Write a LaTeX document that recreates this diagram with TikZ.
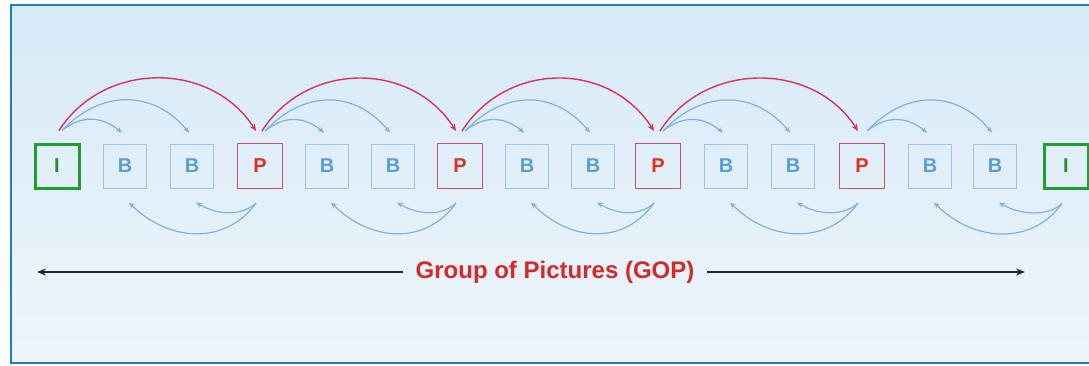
\documentclass[tikz,border=0pt]{standalone}
\usepackage{fontspec}
\setmainfont{Liberation Sans}
\usetikzlibrary{arrows.meta,calc}
\definecolor{bord}{HTML}{1B7FC4}
\definecolor{bgtop}{HTML}{D6EAF8}
\definecolor{bgbot}{HTML}{EEF5FA}
\definecolor{bblue}{HTML}{5A9ED6}
\definecolor{bbox}{HTML}{A0C6E6}
\definecolor{pred}{HTML}{E0301E}
\definecolor{pbox}{HTML}{C8506A}
\definecolor{igreen}{HTML}{2E8B2E}
\definecolor{ibox}{HTML}{1E9E2E}
\definecolor{arcred}{HTML}{D8345A}
\definecolor{arcblue}{HTML}{7FB2DC}
\definecolor{gopred}{HTML}{D42A2A}
\begin{document}
\begin{tikzpicture}[x=1pt,y=-1pt,
  letter/.style={inner sep=0pt, font=\fontsize{20}{20}\selectfont\bfseries},
  bframe/.style={letter, draw=bbox, line width=0.9pt, minimum width=43pt, minimum height=44pt, text=bblue},
  pframe/.style={letter, draw=pbox, line width=1.1pt, minimum size=45pt, text=pred},
  iframe/.style={letter, draw=ibox, line width=3pt, minimum size=44pt, text=igreen},
  refarc/.style={draw=arcred, line width=1.4pt, -{Stealth[length=7pt,width=6pt]}},
  predarc/.style={draw=arcblue, line width=1.2pt, -{Stealth[length=6pt,width=5pt]}},
  goptext/.style={text=gopred, font=\fontsize{24}{24}\selectfont\bfseries, inner xsep=12pt},
  gopline/.style={draw=black!85, line width=1.6pt, -{Stealth[length=9pt,width=7pt]}}
]
\useasboundingbox (0,0) rectangle (1089,365);
\fill[white] (0,0) rectangle (1089,365);
\shade[top color=bgtop,bottom color=bgbot] (11,5) rectangle (1089,363);
\draw[bord,line width=2.2pt] (1089,5) -- (11,5) -- (11,363) -- (1089,363);

\foreach \i/\x/\s/\t in {0/57/iframe/I,1/125/bframe/B,2/192/bframe/B,3/260/pframe/P,
  4/327/bframe/B,5/393/bframe/B,6/460/pframe/P,7/527/bframe/B,8/593/bframe/B,
  9/658/pframe/P,10/726/bframe/B,11/793/bframe/B,12/862/pframe/P,13/930/bframe/B,
  14/995/bframe/B,15/1066/iframe/I}
  \node[\s] (n\i) at (\x,166) {\t};

% forward references (top)
\foreach \a in {0,3,6,9,12}{
  \pgfmathtruncatemacro{\ba}{\a+1}
  \pgfmathtruncatemacro{\bb}{\a+2}
  \draw[predarc] ([xshift=5pt,yshift=12pt]n\a.north) .. controls +(20,-16) and +(-20,-16) .. ([xshift=-3pt,yshift=11pt]n\ba.north);
  \draw[predarc] ([xshift=5pt,yshift=12pt]n\a.north) .. controls +(40,-42) and +(-35,-42) .. ([xshift=-3pt,yshift=11pt]n\bb.north);
}
\foreach \a in {0,3,6,9}{
  \pgfmathtruncatemacro{\c}{\a+3}
  \draw[refarc] ([xshift=2pt,yshift=12pt]n\a.north) .. controls +(45,-70) and +(-45,-70) .. ([xshift=-4pt,yshift=12pt]n\c.north);
}
% backward references (bottom)
\foreach \b in {3,6,9,12,15}{
  \pgfmathtruncatemacro{\ca}{\b-1}
  \pgfmathtruncatemacro{\cb}{\b-2}
  \draw[predarc] ([xshift=-4pt,yshift=-14pt]n\b.south) .. controls +(-15,14) and +(20,12) .. ([xshift=4pt,yshift=-14pt]n\ca.south);
  \draw[predarc] ([xshift=-4pt,yshift=-14pt]n\b.south) .. controls +(-30,42) and +(40,40) .. ([xshift=4pt,yshift=-14pt]n\cb.south);
}

\node[goptext] (g) at (555,272) {Group of Pictures (GOP)};
\coordinate (gl) at (37,272);
\coordinate (gr) at (1025,272);
\draw[gopline] (g.west) -- (gl);
\draw[gopline] (g.east) -- (gr);
\end{tikzpicture}
\end{document}
